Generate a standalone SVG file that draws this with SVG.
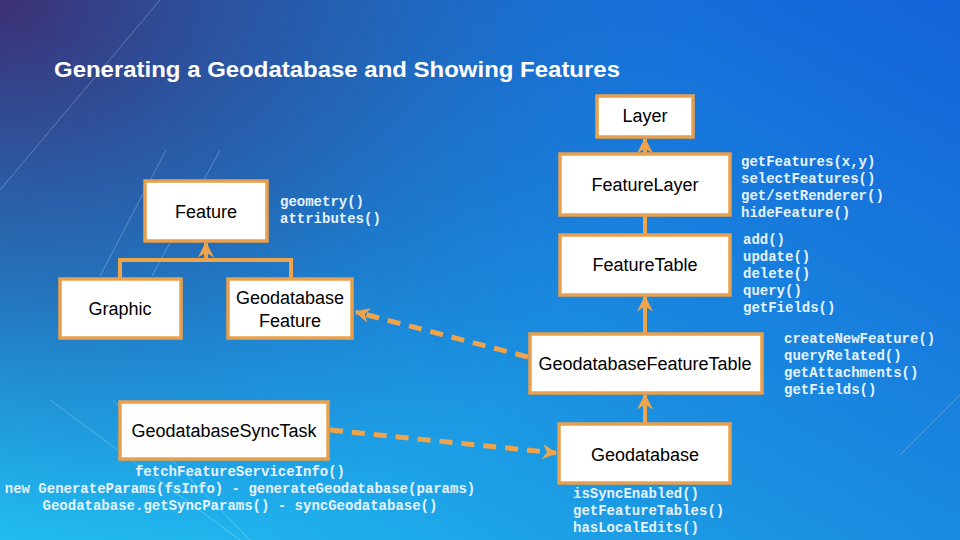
<svg xmlns="http://www.w3.org/2000/svg" width="960" height="540" viewBox="0 0 960 540">
<defs>
<linearGradient id="bg" x1="0" y1="1" x2="1" y2="0">
<stop offset="0" stop-color="#22c2f2"/>
<stop offset="0.45" stop-color="#1a8fe0"/>
<stop offset="1" stop-color="#1462d8"/>
</linearGradient>
<radialGradient id="tl" cx="0" cy="0" r="0.75" gradientTransform="scale(1,1.4)">
<stop offset="0" stop-color="#3d2f73" stop-opacity="1"/>
<stop offset="0.5" stop-color="#2a4f9a" stop-opacity="0.6"/>
<stop offset="1" stop-color="#1a70d0" stop-opacity="0"/>
</radialGradient>
<marker id="ah" viewBox="0 0 10 10" refX="9" refY="5" markerWidth="4" markerHeight="4" orient="auto" markerUnits="strokeWidth">
<path d="M0,0 L10,5 L0,10 L3,5 Z" fill="#eea44a"/>
</marker>
<marker id="ah2" viewBox="0 0 10 10" refX="9" refY="5" markerWidth="3" markerHeight="3" orient="auto" markerUnits="strokeWidth">
<path d="M0,0 L10,5 L0,10 L3,5 Z" fill="#eea44a"/>
</marker>
</defs>
<style>
.box{fill:#fff;stroke:#e9a04c;stroke-width:3.5}
.lbl{font-family:"Liberation Sans",Arial,sans-serif;font-size:18px;fill:#000;text-anchor:middle}
.m{font-family:"Liberation Mono","Courier New",monospace;font-size:14px;font-weight:bold;fill:#e6f3ff}
.c{fill:none;stroke:#eea44a;stroke-width:4}
.d{fill:none;stroke:#eea44a;stroke-width:5;stroke-dasharray:13 9}
.deco{stroke:#ffffff;stroke-opacity:0.25;stroke-width:1;fill:none}
</style>
<rect width="960" height="540" fill="url(#bg)"/>
<rect width="960" height="540" fill="url(#tl)"/>
<g id="decor">
<path class="deco" d="M166,150 L100,276"/>
<path class="deco" d="M220,150 L152,276"/>
<path class="deco" d="M50,400 L240,540"/>
<path class="deco" d="M113,400 L250,540"/>
<path class="deco" d="M0,190 L160,0" stroke-opacity="0.1"/>
<path class="deco" d="M960,395 L900,455"/>
</g>
<text x="54" y="77" font-family="Liberation Sans,Arial,sans-serif" font-size="22" font-weight="bold" fill="#fff" textLength="566" lengthAdjust="spacingAndGlyphs">Generating a Geodatabase and Showing Features</text>
<g id="connectors">
<path class="c" d="M645,153 L645,139" marker-end="url(#ah)"/>
<path class="c" d="M645,234 L645,216"/>
<path class="c" d="M645,333 L645,297" marker-end="url(#ah)"/>
<path class="c" d="M645,424 L645,395" marker-end="url(#ah)"/>
<path class="c" d="M120,279 L120,260 L291,260 L291,279"/>
<path class="c" d="M206,260 L206,243" marker-end="url(#ah)"/>
<path class="d" d="M528,357 L356,312" marker-end="url(#ah2)"/>
<path class="d" d="M330,430 L556,453" marker-end="url(#ah2)"/>
</g>
<g id="layer"><rect class="box" x="597" y="96" width="96" height="41"/><text class="lbl" x="645" y="122">Layer</text></g>
<g id="featurelayer"><rect class="box" x="560" y="154" width="170" height="61"/><text class="lbl" x="645" y="191">FeatureLayer</text>
<text class="m" x="741" y="166">getFeatures(x,y)</text><text class="m" x="741" y="183">selectFeatures()</text><text class="m" x="741" y="200">get/setRenderer()</text><text class="m" x="741" y="217">hideFeature()</text></g>
<g id="featuretable"><rect class="box" x="560" y="235" width="170" height="60"/><text class="lbl" x="645" y="271">FeatureTable</text>
<text class="m" x="743" y="244">add()</text><text class="m" x="743" y="261">update()</text><text class="m" x="743" y="278">delete()</text><text class="m" x="743" y="295">query()</text><text class="m" x="743" y="312">getFields()</text></g>
<g id="gdbfeaturetable"><rect class="box" x="530" y="334" width="232" height="59"/><text class="lbl" x="645" y="370">GeodatabaseFeatureTable</text>
<text class="m" x="784" y="343">createNewFeature()</text><text class="m" x="784" y="360">queryRelated()</text><text class="m" x="784" y="377">getAttachments()</text><text class="m" x="784" y="394">getFields()</text></g>
<g id="geodatabase"><rect class="box" x="559" y="424" width="171" height="59"/><text class="lbl" x="645" y="461">Geodatabase</text>
<text class="m" x="573" y="498">isSyncEnabled()</text><text class="m" x="573" y="515">getFeatureTables()</text><text class="m" x="573" y="532">hasLocalEdits()</text></g>
<g id="feature"><rect class="box" x="145" y="181" width="122" height="60"/><text class="lbl" x="206" y="218">Feature</text>
<text class="m" x="280" y="206">geometry()</text><text class="m" x="280" y="223">attributes()</text></g>
<g id="graphic"><rect class="box" x="60" y="279" width="121" height="59"/><text class="lbl" x="120" y="315">Graphic</text></g>
<g id="gdbfeature"><rect class="box" x="228" y="279" width="124" height="59"/><text class="lbl" x="290" y="304">Geodatabase</text><text class="lbl" x="290" y="327">Feature</text></g>
<g id="synctask"><rect class="box" x="120" y="402" width="208" height="57"/><text class="lbl" x="224" y="437">GeodatabaseSyncTask</text>
<text class="m" x="240" y="476" text-anchor="middle">fetchFeatureServiceInfo()</text><text class="m" x="240" y="493" text-anchor="middle">new GenerateParams(fsInfo) - generateGeodatabase(params)</text><text class="m" x="240" y="510" text-anchor="middle">Geodatabase.getSyncParams() - syncGeodatabase()</text></g>
</svg>
